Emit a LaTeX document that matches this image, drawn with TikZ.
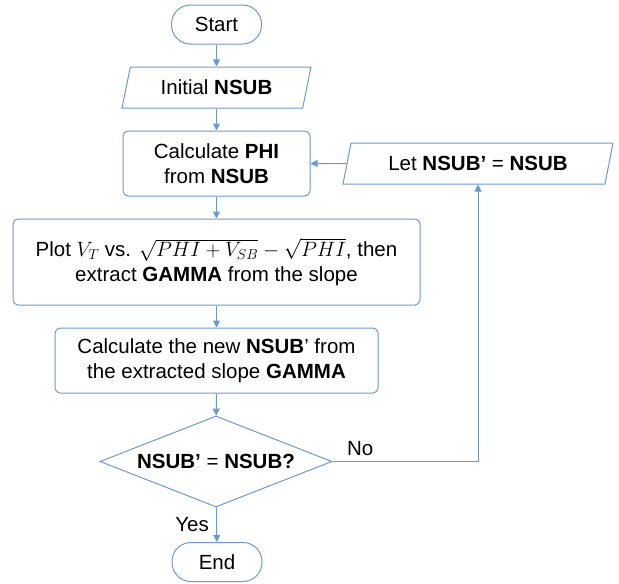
\documentclass[tikz,border=0pt]{standalone}
\usepackage{fontspec}
\setmainfont{Liberation Sans}
\definecolor{flowblue}{RGB}{108,153,208}
\usetikzlibrary{positioning, arrows.meta, shapes.geometric}

\begin{document}
\begin{tikzpicture}[x=1pt, y=-1pt,
  every node/.style={font=\fontsize{20.5}{25}\selectfont},
  term/.style={draw=flowblue, line width=1pt, rounded corners=19pt,
    minimum width=90pt, minimum height=39pt, inner sep=0pt},
  io/.style={draw=flowblue, line width=1pt, trapezium,
    trapezium left angle=61, trapezium right angle=119,
    trapezium stretches body=true, minimum height=41pt, inner sep=0pt},
  proc/.style={draw=flowblue, line width=1pt, rounded corners=5pt,
    align=center, inner sep=0pt},
  decide/.style={draw=flowblue, line width=1pt, diamond, aspect=2.55,
    minimum width=232pt, minimum height=91pt, inner sep=0pt},
  arw/.style={-{Triangle[length=7pt, width=7pt]}, line width=1pt, flowblue},
  lbl/.style={text=black},
]
\useasboundingbox (0,0) rectangle (619,584);

% ---- main column ----
\node[term] (start) at (216.5, 24.5) {Start};
\node[io, minimum width=189pt] (init) at (216.5, 87.5) {Initial \textbf{NSUB}};
\node[proc, minimum width=187pt, minimum height=65pt] (phi) at (216.5, 163.5)
  {Calculate \textbf{PHI}\\ from \textbf{NSUB}};
\node[proc, minimum width=407pt, minimum height=86pt] (plot) at (216.5, 262)
  {Plot $V_T$ vs. $\sqrt{PHI+V_{SB}}-\sqrt{PHI}$, then\\
   extract \textbf{GAMMA} from the slope};
\node[proc, minimum width=323pt, minimum height=65pt] (newsub) at (216.5, 360.5)
  {Calculate the new \textbf{NSUB}’ from\\
   the extracted slope \textbf{GAMMA}};
\node[decide] (check) at (216, 461.5) {\textbf{NSUB’} = \textbf{NSUB?}};
\node[term] (stop) at (217, 562) {End};

% ---- loop back (right) ----
\node[io, minimum width=270pt] (let) at (478, 163.5)
  {Let \textbf{NSUB’} = \textbf{NSUB}};

\draw[arw] (start) -- (init);
\draw[arw] (init) -- (phi);
\draw[arw] (phi) -- (plot);
\draw[arw] (plot) -- (newsub);
\draw[arw] (newsub) -- (check);
\draw[arw] (check) -- node[lbl, left, xshift=-4pt] {Yes} (stop);
\draw[arw] (check.east) -| node[lbl, pos=0.095, above, yshift=2pt] {No} (let.south);
\draw[arw] (let.west) -- (phi.east);

\end{tikzpicture}
\end{document}
